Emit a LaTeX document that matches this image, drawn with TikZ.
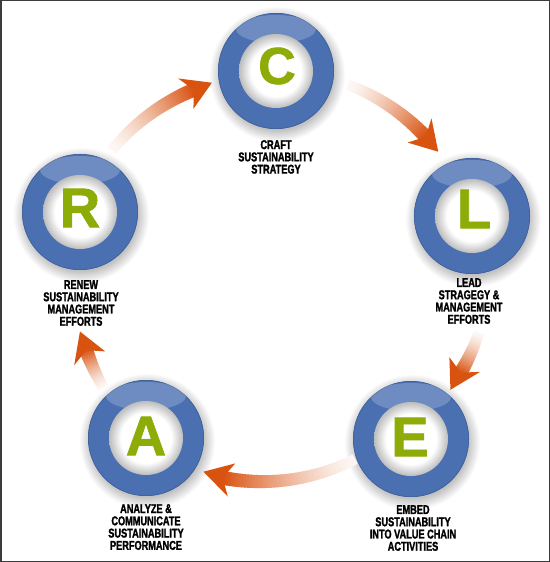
\documentclass[tikz,border=0pt]{standalone}
\usepackage{fontspec}
\setmainfont{Liberation Sans}
\newfontfamily\lblfont[FakeStretch=0.72,FakeBold=1.6]{Liberation Sans}
\newfontfamily\letfont[FakeBold=1.5]{Liberation Sans}
\definecolor{ringblue}{RGB}{74,112,178}
\definecolor{letgreen}{RGB}{141,172,8}
\definecolor{arrowor}{RGB}{216,82,16}
\definecolor{frameclr}{RGB}{60,60,60}
\pgfdeclareradialshading{innerglow}{\pgfpointorigin}{color(0bp)=(white); color(17bp)=(white); color(25bp)=(black!26); color(50bp)=(black!26)}
\pgfdeclareradialshading{dropshadow}{\pgfpointorigin}{color(0bp)=(black!30); color(20.5bp)=(black!24); color(25bp)=(white); color(50bp)=(white)}
\tikzset{
  lbl/.style={font=\lblfont\bfseries\fontsize{12.8}{12.3}\selectfont, align=center, anchor=north, inner sep=0pt},
  letter/.style={font=\letfont\bfseries\fontsize{56}{56}\selectfont, text=letgreen, inner sep=0pt},
}
\newcommand\shadowat[2]{\shade[shading=dropshadow] (#1+1,#2+3) circle[radius=68];}
\newcommand\ringat[2]{%
  \begin{scope}[shift={(#1,#2)}]
    \fill[ringblue] (0,0) circle[radius=58];
    \draw[ringblue!85!black, line width=0.6bp] (0,0) circle[radius=57.7];
    \begin{scope}
      \clip (0,0) circle[radius=58];
      \fill[white, fill opacity=0.2] (0,-42) ellipse[x radius=40, y radius=14];
    \end{scope}
    \shade[shading=innerglow] (0,0) circle[radius=37];
  \end{scope}}
% #1 start angle, #2 tip angle, #3 start radius, #4 tip radius
\newcommand\gradarrow[4]{%
  \pgfmathsetmacro\shaftend{#2-5.5}
  \foreach \i in {0,...,47}{
    \pgfmathsetmacro\fa{\i/48}
    \pgfmathsetmacro\fb{min(1,(\i+1.4)/48)}
    \pgfmathsetmacro\aa{#1+(\shaftend-#1)*\fa}
    \pgfmathsetmacro\ab{#1+(\shaftend-#1)*\fb}
    \pgfmathsetmacro\ra{#3+(#4-#3)*\fa}
    \pgfmathsetmacro\rb{#3+(#4-#3)*\fb}
    \pgfmathsetmacro\pc{4+96*((\i+0.5)/48)^1.4}
    \pgfmathsetmacro\lw{10.5+3.5*\fa}
    \draw[line width=\lw bp, draw=arrowor!\pc!white] (\aa:\ra) -- (\ab:\rb);
  }
  \fill[arrowor] (#2:#4) -- (#2-8:#4+17) -- (#2-5.5:#4) -- (#2-8:#4-17) -- cycle;
}
\begin{document}
\begin{tikzpicture}[x=1bp, y=-1bp]
\useasboundingbox (0,0) rectangle (550,562);
\fill[white] (0,0) rectangle (550,562);

% drop shadows
\shadowat{276}{71}
\shadowat{472}{216}
\shadowat{411}{439}
\shadowat{146}{438}
\shadowat{80}{212}

% arrows
\begin{scope}[shift={(277,275)}]
  \gradarrow{-69.5}{-37.4}{203}{203}
  \gradarrow{16}{33.5}{210}{208}
  \gradarrow{67}{110.5}{200}{210}
  \gradarrow{147}{164}{207}{205}
  \gradarrow{217}{251.3}{207}{203}
\end{scope}

% rings
\ringat{276}{71}
\ringat{472}{216}
\ringat{411}{439}
\ringat{146}{438}
\ringat{80}{212}

% letters
\node[letter, font=\letfont\bfseries\fontsize{52}{52}\selectfont] (C) at (277,66) {C};
\node[letter] (L) at (474,209) {L};
\node[letter] (E) at (410,437) {E};
\node[letter] (A) at (146,436) {A};
\node[letter] (R) at (80,208) {R};

% labels
\node[lbl] (tC) at (276,140) {CRAFT\\SUSTAINABILITY\\STRATEGY};
\node[lbl] (tL) at (469,278) {LEAD\\STRAGEGY \&\\MANAGEMENT\\EFFORTS};
\node[lbl] (tE) at (413,505) {EMBED\\SUSTAINABILITY\\INTO VALUE CHAIN\\ACTIVITIES};
\node[lbl] (tA) at (146,504) {ANALYZE \&\\COMMUNICATE\\SUSTAINABILITY\\PERFORMANCE};
\node[lbl] (tR) at (81,280) {RENEW\\SUSTAINABILITY\\MANAGEMENT\\EFFORTS};

% frame
\draw[frameclr, line width=1.5bp] (0.75,0.75) rectangle (549.25,561.25);
\end{tikzpicture}
\end{document}
